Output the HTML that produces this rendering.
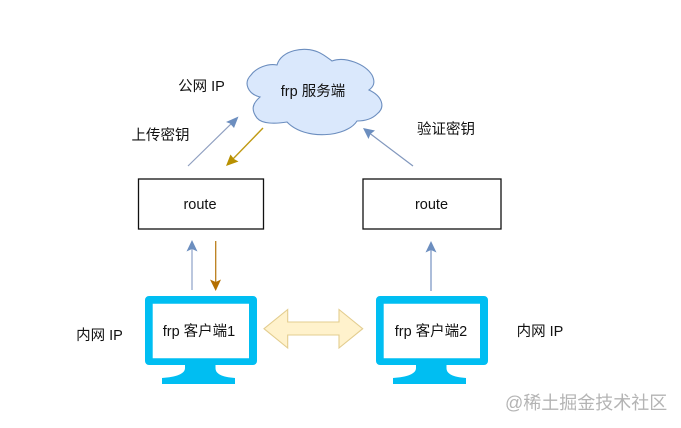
<!DOCTYPE html>
<html>
<head>
<meta charset="utf-8">
<style>
html,body{margin:0;padding:0;background:#fff;width:681px;height:428px;overflow:hidden}
svg{display:block;filter:blur(0.3px)}
text{font-family:"Liberation Sans","Noto Sans CJK SC",sans-serif;font-size:14.5px;fill:#111}
</style>
</head>
<body>
<svg width="681" height="428" viewBox="0 0 681 428" xmlns="http://www.w3.org/2000/svg">
<defs>
<g id="mon">
<path fill="#00bef2" fill-rule="evenodd" d="M149,296H253a4,4 0 0 1 4,4V361a4,4 0 0 1 -4,4H215.500V368C215.500,374 222,377 235,378V384H162V378C176,377 185,374 185,368V365H149a4,4 0 0 1 -4,-4V300a4,4 0 0 1 4,-4ZM152.700,303.700V358.300H249V303.700Z"/>
</g>
</defs>
<path d="M277,65 C281,50 305,46 318,52 C323,54 328,58 332,61 C345,56 365,64 372,75 C376,83 373,87 369,90 C382,96 386,107 377,114 C371,120 362,121 357,121 C347,137 305,141 287,122 C275,124 262,124 257,118 C251,110 252,104 260,97 C248,94 243,83 251,75 C256,68 268,63 277,65 Z" fill="#dae8fc" stroke="#6c8ebf" stroke-width="1.100"/>
<rect x="138.500" y="179" width="125" height="50" fill="#fff" stroke="#111" stroke-width="1.300"/>
<rect x="363" y="179" width="138" height="50" fill="#fff" stroke="#111" stroke-width="1.300"/>
<line x1="188" y1="166" x2="234" y2="121" stroke="#8f9fc0" stroke-width="1.200"/>
<path d="M238.500,116.500L234,128L230,123.500L226,122Z" fill="#6c8ebf"/>
<line x1="263" y1="128" x2="231" y2="161" stroke="#c09a14" stroke-width="1.400"/>
<path d="M226,166L230.500,154.500L234,159L238.500,161.500Z" fill="#b89000"/>
<line x1="413" y1="166" x2="368" y2="132" stroke="#8197bd" stroke-width="1.200"/>
<path d="M363,128L375,130.500L370.500,134L368.500,139Z" fill="#6c8ebf"/>
<line x1="192" y1="290" x2="192" y2="246" stroke="#a4b4d2" stroke-width="1.500"/>
<path d="M192,240L197.500,251.500L192,249L186.500,251.500Z" fill="#6c8ebf"/>
<line x1="215.700" y1="241" x2="215.700" y2="286" stroke="#bb7d1a" stroke-width="1.300"/>
<path d="M215.700,291L210,279.500L215.700,282L221,279.500Z" fill="#b46f00"/>
<line x1="431" y1="291" x2="431" y2="246" stroke="#7f99c6" stroke-width="1.300"/>
<path d="M431,241L436.500,252.500L431,250L425.500,252.500Z" fill="#6c8ebf"/>
<path d="M264,328.700L287.700,309.500V322H339V309.500L362.700,328.700L339,348V335H287.700V348Z" fill="#fff2cc" stroke="#e3cd8f" stroke-width="1.100"/>
<use href="#mon"/>
<use href="#mon" x="231"/>
<text x="313" y="96" text-anchor="middle">frp 服务端</text>
<text x="201.500" y="91" text-anchor="middle">公网 IP</text>
<text x="160.500" y="140" text-anchor="middle">上传密钥</text>
<text x="446" y="134" text-anchor="middle">验证密钥</text>
<text x="200" y="209" text-anchor="middle">route</text>
<text x="431.500" y="209" text-anchor="middle">route</text>
<text x="199" y="336" text-anchor="middle">frp 客户端1</text>
<text x="431" y="336" text-anchor="middle">frp 客户端2</text>
<text x="99.500" y="340" text-anchor="middle">内网 IP</text>
<text x="540" y="336" text-anchor="middle">内网 IP</text>
<text x="505" y="409" style="font-size:18px;fill:#b4b4b4">@稀土掘金技术社区</text>
</svg>
</body>
</html>
